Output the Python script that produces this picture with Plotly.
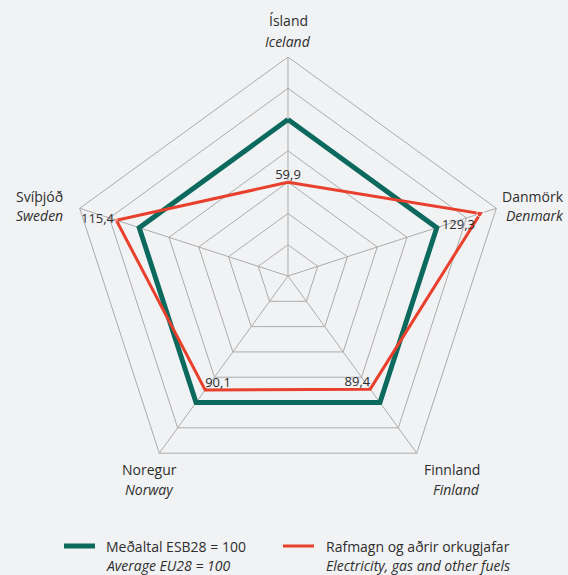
import plotly.graph_objects as go

# Axes of the radar, Icelandic name and English name
countries_is = ["Ísland", "Danmörk", "Finnland", "Noregur", "Svíþjóð"]
countries_en = ["Iceland", "Denmark", "Finland", "Norway", "Sweden"]

# Price level index, EU28 average = 100
eu_average = [100, 100, 100, 100, 100]
electricity_fuels = [59.9, 129.3, 89.4, 90.1, 115.4]
value_labels = ["59,9", "129,3", "89,4", "90,1", "115,4"]
label_positions = ["top center", "bottom left", "top left", "top right", "middle left"]
label_pad = [0, 7, 0, 0, 2]

series_names = [
    ("Meðaltal ESB28 = 100", "Average EU28 = 100"),
    ("Rafmagn og aðrir orkugjafar", "Electricity, gas and other fuels"),
]

BG = "#f1f2f4"
GRID = "#ababab"
GREEN = "#0b6a5d"
RED = "#e8402d"
TEXT = "#2e2e2e"
FONT = "Open Sans"
W, H = 568, 575

closed = lambda v: v + v[:1]

fig = go.Figure()
fig.add_trace(go.Scatterpolar(
    r=closed(eu_average), theta=closed(countries_is), mode="lines",
    line=dict(color=GREEN, width=5), showlegend=False, hoverinfo="skip",
))
fig.add_trace(go.Scatterpolar(
    r=closed(electricity_fuels), theta=closed(countries_is), mode="lines",
    line=dict(color=RED, width=3), showlegend=False, hoverinfo="skip",
))
# Value labels; invisible markers give each label its own offset from the vertex
fig.add_trace(go.Scatterpolar(
    r=electricity_fuels, theta=countries_is, mode="markers+text",
    marker=dict(size=label_pad, color="rgba(0,0,0,0)"),
    text=value_labels, textposition=label_positions,
    textfont=dict(family=FONT, size=13, color=TEXT),
    showlegend=False, hoverinfo="skip",
))


def px_x(x):
    return x / W


def px_y(y):
    return 1 - y / H


def two_line_label(x, y, top, bottom, align, gap=20):
    fig.add_annotation(x=px_x(x), y=px_y(y), xref="paper", yref="paper", text=top,
                       showarrow=False, xanchor=align, yanchor="middle",
                       font=dict(family=FONT, size=14, color=TEXT))
    fig.add_annotation(x=px_x(x), y=px_y(y + gap), xref="paper", yref="paper",
                       text=f"<i>{bottom}</i>", showarrow=False, xanchor=align,
                       yanchor="middle", font=dict(family=FONT, size=14, color=TEXT))


# Category labels around the outer pentagon
label_spots = [
    (288, 21, "center"),
    (566, 196, "right"),
    (482, 469, "right"),
    (149, 469, "center"),
    (14, 196, "left"),
]
for (x, y, align), a, b in zip(label_spots, countries_is, countries_en):
    two_line_label(x, y, a, b, align)

# Legend: swatch line plus two-line caption
legend_spots = [(64, 95, 104), (283, 314, 324)]
legend_y = 546
for (x0, x1, tx), color, width, (a, b) in zip(legend_spots, [GREEN, RED], [5, 3], series_names):
    fig.add_shape(type="line", xref="paper", yref="paper",
                  x0=px_x(x0), x1=px_x(x1), y0=px_y(legend_y), y1=px_y(legend_y),
                  line=dict(color=color, width=width))
    two_line_label(tx, legend_y, a, b, "left", gap=19)

cx, cy, R = 288, 276, 219
fig.update_layout(
    width=W, height=H,
    margin=dict(l=0, r=0, t=0, b=0),
    paper_bgcolor=BG, plot_bgcolor=BG,
    font=dict(family=FONT, size=14, color=TEXT),
    showlegend=False,
    polar=dict(
        domain=dict(x=[(cx - R) / W, (cx + R) / W], y=[1 - (cy + R) / H, 1 - (cy - R) / H]),
        bgcolor=BG,
        gridshape="linear",
        radialaxis=dict(range=[0, 140], dtick=20, showticklabels=False, ticks="",
                        showline=False, gridcolor=GRID, gridwidth=1),
        angularaxis=dict(rotation=90, direction="clockwise", showticklabels=False, ticks="",
                         linecolor=GRID, linewidth=1, gridcolor=GRID, gridwidth=1),
    ),
)

fig.write_html("out.html")
